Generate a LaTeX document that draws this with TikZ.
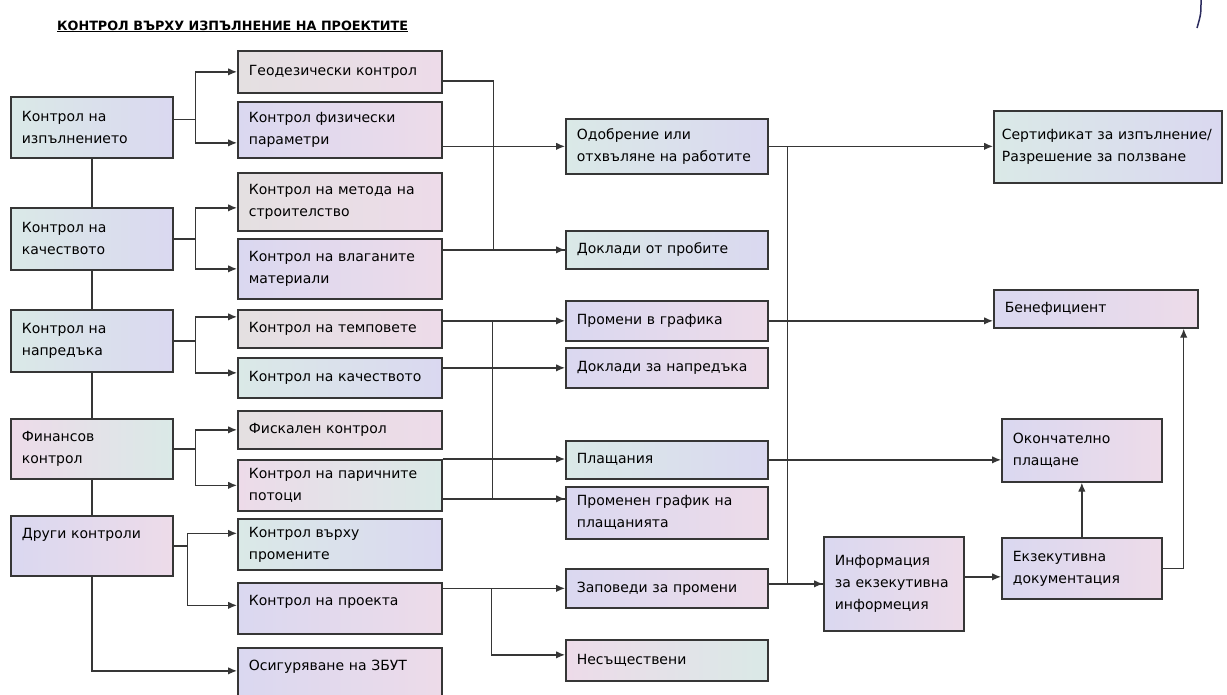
\documentclass[tikz,border=0pt]{standalone}
\usepackage{fontspec}
\setmainfont{DejaVu Sans}
\usetikzlibrary{arrows.meta,calc}

\definecolor{cyn}{HTML}{DAE9E7}
\definecolor{lav}{HTML}{DAD8F0}
\definecolor{pnk}{HTML}{EDDBE9}
\definecolor{gry}{HTML}{E4E0E1}
\definecolor{edge}{HTML}{363636}

\begin{document}
\begin{tikzpicture}[x=1pt, y=-1pt, >={Latex[length=9pt,width=7.5pt]},
    box/.style={rectangle, draw=edge, line width=1.7pt, anchor=north west,
      inner xsep=11pt, inner ysep=4pt, align=left,
      font=\fontsize{14}{22}\selectfont},
    sz/.style 2 args={minimum width=#1pt, minimum height=#2pt, text width=#1pt-22pt},
    sA/.style={left color=cyn, right color=lav},
    sB/.style={left color=lav, right color=pnk},
    sC/.style={left color=pnk, right color=cyn},
    sD/.style={left color=gry, right color=pnk},
    conn/.style={draw=edge, line width=1.3pt}]
    \useasboundingbox (0,0) rectangle (1227,694);
    \clip (0,0) rectangle (1227,694);
    \node[anchor=base west, inner sep=0pt, font=\bfseries\fontsize{12.8}{14}\selectfont] (title) at (57,30)
      {\underline{КОНТРОЛ ВЪРХУ ИЗПЪЛНЕНИЕ НА ПРОЕКТИТЕ}};
    \draw[line width=1.5pt, draw=edge!80!blue] (1201,0) .. controls (1201,14) .. (1197,28);
    % controls
    \node[box,sz={162}{61},sA] (izp) at (10,96) {Контрол на\\изпълнението};
    \node[box,sz={162}{62},sA] (kach) at (10,207) {Контрол на\\качеството};
    \node[box,sz={162}{62},sA] (napr) at (10,309) {Контрол на\\напредъка};
    \node[box,sz={162}{60},sC] (fin) at (10,418) {Финансов\\контрол};
    \node[box,sz={162}{60},sB,text height=19pt,text depth=33pt] (dr) at (10,515) {Други контроли};
    % checks
    \node[box,sz={204}{42},sD] (geo) at (237,50) {Геодезически контрол};
    \node[box,sz={204}{56},sB] (fiz) at (237,101) {Контрол физически\\параметри};
    \node[box,sz={204}{58},sD] (met) at (237,172) {Контрол на метода на\\строителство};
    \node[box,sz={204}{60},sB] (vlag) at (237,238) {Контрол на влаганите\\материали};
    \node[box,sz={204}{38},sD] (temp) at (237,309) {Контрол на темповете};
    \node[box,sz={204}{40},sA] (kachb) at (237,357) {Контрол на качеството};
    \node[box,sz={204}{38},sD] (fisk) at (237,410) {Фискален контрол};
    \node[box,sz={204}{51},sC] (par) at (237,459) {Контрол на паричните\\потоци};
    \node[box,sz={204}{51},sA] (prom) at (237,518) {Контрол върху\\промените};
    \node[box,sz={204}{51},sB,text height=19pt,text depth=24pt] (proekt) at (237,582) {Контрол на проекта};
    \node[box,sz={204}{60},sB,text height=19pt,text depth=33pt] (zbut) at (237,647) {Осигуряване на ЗБУТ};
    % results
    \node[box,sz={202}{55},sA] (odob) at (565,118) {Одобрение или\\отхвъляне на работите};
    \node[box,sz={202}{38},sA] (dokl) at (565,230) {Доклади от пробите};
    \node[box,sz={202}{40},sB] (promg) at (565,300) {Промени в графика};
    \node[box,sz={202}{40},sB] (doklN) at (565,347) {Доклади за напредъка};
    \node[box,sz={202}{38},sA] (plasht) at (565,440) {Плащания};
    \node[box,sz={202}{52},sB] (promgp) at (565,486) {Променен график на\\плащанията};
    \node[box,sz={202}{39},sB] (zapov) at (565,568) {Заповеди за промени};
    \node[box,sz={202}{41},sC] (nesa) at (565,639) {Несъществени};
    \node[box,sz={140}{94},sB] (info) at (823,536) {Информация\\за екзекутивна\\информеция};
    \node[box,sz={228}{72},sA,inner xsep=8pt,text width=212pt] (sert) at (993,110) {Сертификат за изпълнение/\\Разрешение за ползване};
    \node[box,sz={204}{38},sB] (ben) at (993,289) {Бенефициент};
    \node[box,sz={160}{63},sB] (okon) at (1001,418) {Окончателно\\плащане};
    \node[box,sz={160}{61},sB] (ekz) at (1001,537) {Екзекутивна\\документация};
    \coordinate (izpO) at ([yshift=8pt]izp.east);
    \coordinate (tPGP) at ([yshift=14pt]promgp.west);
    \coordinate (infoO) at ([yshift=7pt]info.east);
    % left side
    \draw[conn] (izp) -- (kach) -- (napr) -- (fin) -- (dr);
    \draw[conn,->] (izpO) -- ++(22,0) |- (geo.west);
    \draw[conn,->] (izpO) -- ++(22,0) |- ([yshift=-13pt]fiz.west);
    \draw[conn,->] (kach.east) -- ++(22,0) |- ([yshift=-6pt]met.west);
    \draw[conn,->] (kach.east) -- ++(22,0) |- (vlag.west);
    \draw[conn,->] (napr.east) -- ++(22,0) |- ([yshift=12pt]temp.west);
    \draw[conn,->] (napr.east) -- ++(22,0) |- ([yshift=5pt]kachb.west);
    \draw[conn,->] (fin.east) -- ++(22,0) |- (fisk.west);
    \draw[conn,->] (fin.east) -- ++(22,0) |- (par.west);
    \draw[conn,->] (dr.east) -- ++(14,0) |- ([yshift=11pt]prom.west);
    \draw[conn,->] (dr.east) -- ++(14,0) |- ([yshift=3pt]proekt.west);
    \draw[conn,->] (dr.south) |- ([yshift=7pt]zbut.west);
    % middle
    \draw[conn] ([yshift=-9pt]geo.east) -- ++(51,0) |- (dokl.west);
    \draw[conn,->] (fiz.east |- odob.west) -- (odob.west);
    \draw[conn,->] (vlag.east |- dokl.west) -- (dokl.west);
    \draw[conn,->] (temp.east |- promg.west) -- (promg.west);
    \draw[conn] (temp.east |- promg.west) -- ++(50,0) |- (tPGP);
    \draw[conn,->] (kachb.east |- doklN.west) -- (doklN.west);
    \draw[conn,->] (par.north east) -- (par.north east -| plasht.west);
    \draw[conn,->] (par.east |- tPGP) -- (tPGP);
    \draw[conn,->] (proekt.east |- zapov.west) -- (zapov.west);
    \draw[conn,->] (proekt.east |- zapov.west) -- ++(49,0) |- ([yshift=5.5pt]nesa.west);
    % right side
    \draw[conn,->] (odob.east) -- (odob.east -| sert.west);
    \draw[conn] (odob.east) -- ++(19,0) |- (info.west);
    \draw[conn,->] (zapov.east |- info.west) -- (info.west);
    \draw[conn,->] (promg.east) -- (promg.east -| ben.west);
    \draw[conn,->] (plasht.east) -- (plasht.east -| okon.west);
    \draw[conn,->] (infoO) -- (infoO -| ekz.west);
    \draw[conn,->] (ekz) -- (okon);
    \draw[conn,->] (ekz.east) -| ([xshift=-15pt]ben.south east);
\end{tikzpicture}
\end{document}
